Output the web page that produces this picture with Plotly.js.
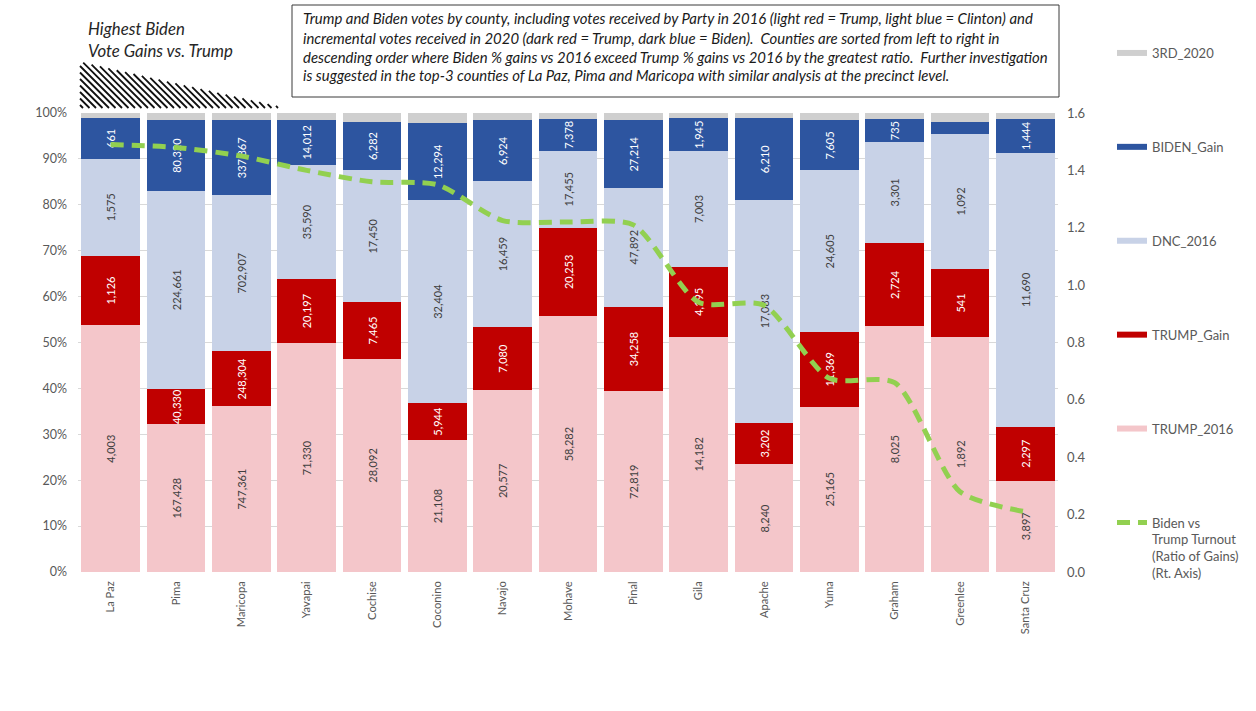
<!DOCTYPE html>
<html>
<head>
<meta charset="utf-8">
<script src="https://cdn.plot.ly/plotly-3.0.1.min.js"></script>
<style>
  html, body { margin: 0; padding: 0; background: #ffffff; }
  #chart { width: 1256px; height: 711px; }
</style>
</head>
<body>
<div id="chart"></div>
<script>
// Arizona counties, ordered by Biden-vs-Trump ratio of gains
const counties = ['La Paz', 'Pima', 'Maricopa', 'Yavapai', 'Cochise', 'Coconino', 'Navajo',
  'Mohave', 'Pinal', 'Gila', 'Apache', 'Yuma', 'Graham', 'Greenlee', 'Santa Cruz'];

// Votes received in 2016 by Trump
const trump2016 = [4003, 167428, 747361, 71330, 28092, 21108, 20577, 58282, 72819, 14182, 8240, 25165, 8025, 1892, 3897];
// Incremental Trump votes in 2020
const trumpGain = [1126, 40330, 248304, 20197, 7465, 5944, 7080, 20253, 34258, 4195, 3202, 11369, 2724, 541, 2297];
// Votes received in 2016 by Clinton
const dnc2016 = [1575, 224661, 702907, 35590, 17450, 32404, 16459, 17455, 47892, 7003, 17083, 24605, 3301, 1092, 11690];
// Incremental Biden votes in 2020
const bidenGain = [661, 80320, 337867, 14012, 6282, 12294, 6924, 7378, 27214, 1945, 6210, 7605, 735, 95, 1444];
// Third-party votes in 2020
const third2020 = [82, 7800, 33100, 2150, 1210, 1610, 780, 1270, 2960, 330, 420, 1130, 210, 70, 240];
// Biden vs Trump turnout, ratio of % gains (right axis)
const ratioOfGains = [1.49, 1.48, 1.45, 1.40, 1.36, 1.35, 1.225, 1.22, 1.21, 0.94, 0.93, 0.675, 0.66, 0.28, 0.21];

// Left-axis ticks
const pctTicks = [0, 10, 20, 30, 40, 50, 60, 70, 80, 90, 100];
const pctLabels = pctTicks.map(v => v + '%');

// Which Biden-gain labels are printed (the Greenlee sliver is left unlabeled)
const bidenLabelShown = [true, true, true, true, true, true, true, true, true, true, true, true, true, false, true];

const fmt = v => v.toLocaleString('en-US');

const C = {
  trump2016: '#f4c6ca',
  trumpGain: '#c00000',
  dnc2016: '#c8d2e7',
  bidenGain: '#2d55a0',
  third: '#cfcfcf',
  ratio: '#92d050',
  text: '#595959'
};

const FONT = 'Lato, "Liberation Sans", Arial, sans-serif';

function barTrace(name, values, color, labels, labelColor) {
  const t = {
    type: 'bar', name: name, x: counties, y: values,
    marker: { color: color, line: { width: 0 } },
    showlegend: false,
    hovertemplate: '%{x}<br>' + name + ': %{customdata}<extra></extra>',
    customdata: values.map(fmt)
  };
  if (labels) {
    t.text = labels;
    t.textposition = 'inside';
    t.insidetextanchor = 'middle';
    t.textangle = -90;
    t.textfont = { color: labelColor, size: 11, family: FONT };
    t.cliponaxis = true;
  } else {
    t.textposition = 'none';
  }
  return t;
}

const traces = [
  barTrace('TRUMP_2016', trump2016, C.trump2016, trump2016.map(fmt), '#404040'),
  barTrace('TRUMP_Gain', trumpGain, C.trumpGain, trumpGain.map(fmt), '#ffffff'),
  barTrace('DNC_2016', dnc2016, C.dnc2016, dnc2016.map(fmt), '#404040'),
  barTrace('BIDEN_Gain', bidenGain, C.bidenGain, bidenGain.map((v, i) => bidenLabelShown[i] ? fmt(v) : ''), '#ffffff'),
  barTrace('3RD_2020', third2020, C.third, null, null)
];

// Legend keys drawn as short thick strokes
const legendKeys = [
  ['3RD_2020', C.third],
  ['BIDEN_Gain', C.bidenGain],
  ['DNC_2016', C.dnc2016],
  ['TRUMP_Gain', C.trumpGain],
  ['TRUMP_2016', C.trump2016]
];
legendKeys.forEach(([name, color], i) => {
  traces.push({
    type: 'scatter', mode: 'lines', x: [null], y: [null], name: name,
    line: { color: color, width: 6 }, legendgroup: 'k' + i, hoverinfo: 'skip'
  });
});

traces.push({
  type: 'scatter', mode: 'lines', x: counties, y: ratioOfGains, yaxis: 'y2',
  name: 'Biden vs<br>Trump Turnout<br>(Ratio of Gains)<br>(Rt. Axis)',
  legendgroup: 'k5',
  line: { color: C.ratio, width: 5, dash: '13px,8px', shape: 'spline', smoothing: 0.7 },
  hovertemplate: '%{x}: %{y:.2f}<extra></extra>'
});

// Plot-area geometry in pixels
const W = 1256, H = 711;
const M = { l: 78, r: 198, t: 113, b: 139 };
const PW = W - M.l - M.r, PH = H - M.t - M.b;
const px = x => (x - M.l) / PW;
const py = y => (H - M.b - y) / PH;

// Hatched wedge under the heading
function hatchPath() {
  const left = 80, top = 62, bottom = 108, right = 285;
  const m = (bottom - top) / (right - left);
  const segs = [];
  for (let c = left - bottom + 3; c <= right - bottom; c += 6.5) {
    const yHyp = (top + m * (c - left)) / (1 - m);
    const y0 = Math.max(left - c, yHyp);
    const y1 = bottom;
    if (y1 - y0 < 0.5) continue;
    segs.push('M' + px(y0 + c).toFixed(5) + ',' + py(y0).toFixed(5) +
              'L' + px(y1 + c).toFixed(5) + ',' + py(y1).toFixed(5));
  }
  return segs.join(' ');
}

const noteLines = [
  'Trump and Biden votes by county, including votes received by Party in 2016 (light red = Trump, light blue = Clinton) and',
  'incremental votes received in 2020 (dark red = Trump, dark blue = Biden).  Counties are sorted from left to right in',
  'descending order where Biden % gains vs 2016 exceed Trump % gains vs 2016 by the greatest ratio.  Further investigation',
  'is suggested in the top-3 counties of La Paz, Pima and Maricopa with similar analysis at the precinct level.'
];
const noteY = [18, 37.5, 56.5, 75];

const annotations = [
  {
    xref: 'paper', yref: 'paper', x: px(86), y: py(16), xanchor: 'left', yanchor: 'top',
    text: '<i>Highest Biden<br>Vote Gains vs. Trump</i>', align: 'left', showarrow: false,
    font: { family: FONT, size: 16.8, color: '#262626' }
  }
];
noteLines.forEach((t, i) => {
  annotations.push({
    xref: 'paper', yref: 'paper', x: px(301), y: py(noteY[i]), xanchor: 'left', yanchor: 'middle',
    text: '<i>' + t + '</i>', align: 'left', showarrow: false,
    font: { family: FONT, size: 14.9, color: '#1a1a1a' }
  });
});

const layout = {
  width: W, height: H,
  margin: M,
  paper_bgcolor: '#ffffff',
  plot_bgcolor: '#ffffff',
  font: { family: FONT, color: C.text, size: 13 },
  barmode: 'stack',
  barnorm: 'percent',
  bargap: 0.1,
  uniformtext: { mode: 'show', minsize: 11 },
  xaxis: {
    type: 'category',
    tickangle: -90,
    ticks: '',
    showgrid: false,
    showline: false,
    zeroline: false,
    ticklabelstandoff: 6,
    tickfont: { size: 11.2, color: C.text }
  },
  yaxis: {
    range: [0, 100],
    tickmode: 'array',
    tickvals: pctTicks,
    ticktext: pctLabels,
    showgrid: true,
    gridcolor: '#d9d9d9',
    gridwidth: 1,
    zeroline: false,
    showline: false,
    ticks: '',
    ticklabelstandoff: 10,
    tickfont: { size: 12.5, color: C.text }
  },
  yaxis2: {
    overlaying: 'y',
    side: 'right',
    range: [0, 1.6],
    dtick: 0.2,
    tickformat: '.1f',
    showgrid: false,
    zeroline: false,
    showline: false,
    ticks: '',
    ticklabelstandoff: 8,
    tickfont: { size: 13, color: C.text }
  },
  legend: {
    x: px(1112), xanchor: 'left',
    y: py(38), yanchor: 'top',
    maxheight: 700,
    traceorder: 'grouped',
    tracegroupgap: 74,
    valign: 'top',
    bgcolor: 'rgba(0,0,0,0)',
    font: { family: FONT, size: 13, color: C.text }
  },
  shapes: [
    {
      type: 'rect', xref: 'paper', yref: 'paper',
      x0: px(292), x1: px(1059), y0: py(97), y1: py(5),
      line: { color: '#3a3a3a', width: 1 }, fillcolor: 'rgba(255,255,255,0)'
    },
    {
      type: 'path', xref: 'paper', yref: 'paper', path: hatchPath(),
      line: { color: '#111111', width: 1.8 }
    }
  ],
  annotations: annotations,
  hovermode: 'closest'
};

Plotly.newPlot('chart', traces, layout, { displayModeBar: false, responsive: false });
</script>
</body>
</html>
